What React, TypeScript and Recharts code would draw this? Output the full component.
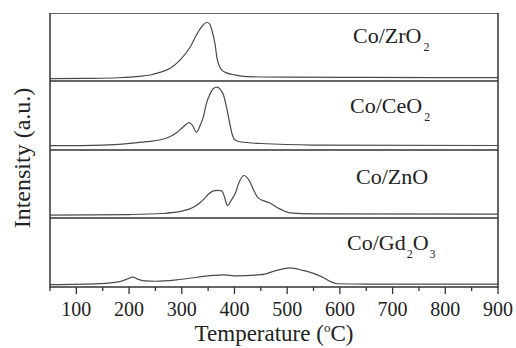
import React from 'react';
import { LineChart, Line, XAxis, YAxis, ReferenceArea } from 'recharts';

// Co/ZrO2
const zrTemps = [50, 120, 180, 220, 240, 260, 278, 297, 316, 328, 338, 347, 353, 357, 363, 367, 372, 376, 385, 400, 423, 500, 650, 900];
const zrValues = [3.4, 3.8, 4.8, 6.8, 8.8, 13, 18.7, 31, 50, 68, 80, 86, 84, 75, 55, 33, 21, 16, 12, 9, 6.5, 5.6, 5.2, 4.9];

// Co/CeO2
const ceTemps = [50, 150, 202, 233, 260, 275, 290, 303, 314, 320, 328, 335, 341, 347, 353, 360, 367, 373, 379, 386, 391, 396, 401, 410, 450, 550, 900];
const ceValues = [6.2, 7.2, 9.7, 12, 14.8, 18.5, 25, 33.8, 39.6, 36, 25.7, 36, 48, 68, 80, 89, 91, 88, 80, 58, 38.7, 21.7, 14.5, 12, 9.4, 7.2, 6.5];

// Co/ZnO
const znTemps = [50, 200, 264, 300, 320, 334, 344, 352, 360, 368, 376, 381, 387, 393, 402, 408, 418, 429, 436, 445, 458, 467, 486, 505, 550, 900];
const znValues = [4.1, 5.1, 6.6, 10, 15, 22, 29.5, 36, 40, 40.5, 40, 31, 18, 25, 37, 51, 62.5, 53.7, 41.6, 29.5, 24.5, 22, 13.4, 7.6, 6.1, 5.8];

// Co/Gd2O3
const gdTemps = [50, 145, 180, 195, 207, 218, 230, 250, 300, 360, 380, 404, 450, 480, 505, 530, 556, 570, 581, 595, 650, 900];
const gdValues = [3.4, 4.8, 7.3, 11, 14.2, 11, 8.8, 8.3, 11.2, 16.8, 17.5, 16, 17.8, 24, 27.7, 24, 18, 13, 8.3, 4.7, 4.1, 4.1];

const xTicks = [50, 100, 150, 200, 250, 300, 350, 400, 450, 500, 550, 600, 650, 700, 750, 800, 850, 900];
const majorTickLabels = ['100', '200', '300', '400', '500', '600', '700', '800', '900'];

const FONT = '"Liberation Serif", "Times New Roman", Times, serif';
const LINE = '#4a4a4a';
const FRAME = '#333';

function toData(t: number[], v: number[]) {
  return t.map((x, i) => ({ t: x, v: v[i] }));
}

const AxisTick = (props: any) => {
  const { x, y, payload } = props;
  const label = String(payload.value);
  const major = majorTickLabels.includes(label);
  return (
    <g>
      <line x1={x} x2={x} y1={y} y2={y + (major ? 7 : 4)} stroke={FRAME} strokeWidth={1.3} />
      {major && (
        <text x={x} y={y + 29} textAnchor="middle" fontFamily={FONT} fontSize={20} fill="#222">
          {label}
        </text>
      )}
    </g>
  );
};

type PanelProps = { data: { t: number; v: number }[]; top: number; height: number; bottomAxis?: boolean };

const Panel = ({ data, top, height, bottomAxis }: PanelProps) => (
  <div style={{ position: 'absolute', left: 0, top }}>
    <LineChart width={516} height={height} data={data} margin={{ top: 0, right: 18, left: 50, bottom: 0 }}>
      <XAxis
        dataKey="t"
        type="number"
        domain={[50, 900]}
        ticks={xTicks}
        interval={0}
        hide={!bottomAxis}
        axisLine={false}
        tickLine={false}
        tickSize={0}
        tickMargin={0}
        height={61}
        tick={<AxisTick />}
      />
      <YAxis hide domain={[0, 100]} type="number" />
      <ReferenceArea x1={50} x2={900} y1={0} y2={100} fill="none" stroke={FRAME} strokeWidth={1.5} ifOverflow="visible" />
      <Line type="monotone" dataKey="v" stroke={LINE} strokeWidth={1.2} dot={false} isAnimationActive={false} />
    </LineChart>
  </div>
);

export default function App() {
  return (
    <div style={{ position: 'absolute', left: 0, top: 0, width: 516, height: 348, background: '#fff' }}>
      <Panel data={toData(zrTemps, zrValues)} top={13} height={68} />
      <Panel data={toData(ceTemps, ceValues)} top={81} height={69} />
      <Panel data={toData(znTemps, znValues)} top={150} height={68} />
      <Panel data={toData(gdTemps, gdValues)} top={218} height={130} bottomAxis />
      <svg width={516} height={348} style={{ position: 'absolute', left: 0, top: 0, pointerEvents: 'none' }}>
        <g fontFamily={FONT} fill="#222">
          <text x={353} y={43} fontSize={22}>
            Co/ZrO<tspan dx={2} dy={8} fontSize={12}>2</tspan>
          </text>
          <text x={350} y={113} fontSize={22}>
            Co/CeO<tspan dx={2} dy={8} fontSize={12}>2</tspan>
          </text>
          <text x={356} y={184} fontSize={22}>
            Co/ZnO
          </text>
          <text x={347} y={250} fontSize={22}>
            Co/Gd<tspan dx={1} dy={8} fontSize={12}>2</tspan>
            <tspan dy={-8}>O</tspan>
            <tspan dx={1} dy={8} fontSize={12}>3</tspan>
          </text>
          <text x={274} y={341} fontSize={23} textAnchor="middle">
            Temperature (<tspan dy={-9} fontSize={13}>o</tspan>
            <tspan dy={9}>C)</tspan>
          </text>
          <text x={30} y={158} fontSize={24} textAnchor="middle" transform="rotate(-90 30 158)">
            Intensity (a.u.)
          </text>
        </g>
      </svg>
    </div>
  );
}
